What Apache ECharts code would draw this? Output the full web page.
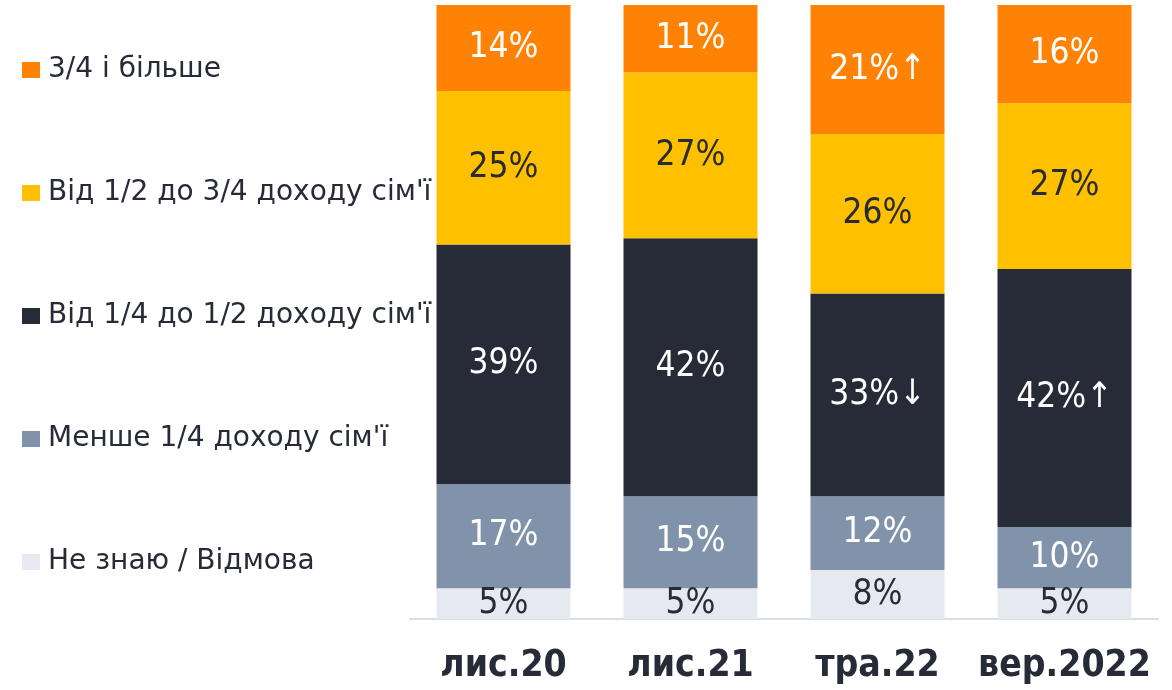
<!DOCTYPE html>
<html>
<head>
<meta charset="utf-8" />
<title>Stacked</title>
<script src="https://cdn.jsdelivr.net/npm/echarts@6/dist/echarts.min.js"></script>
<style>
  html, body { margin: 0; padding: 0; background: #fff; }
  #main { width: 1172px; height: 690px; }
</style>
</head>
<body>
<div id="main"></div>
<script>
var categories = ['лис.20', 'лис.21', 'тра.22', 'вер.2022'];

var seriesNames = ['Не знаю / Відмова', 'Менше 1/4 доходу сім\'ї', 'Від 1/4 до 1/2 доходу сім\'ї', 'Від 1/2 до 3/4 доходу сім\'ї', '3/4 і більше'];
var dontKnow = [5, 5, 8, 5];
var lessQuarter = [17, 15, 12, 10];
var quarterHalf = [39, 42, 33, 42];
var halfThreeQ = [25, 27, 26, 27];
var threeQMore = [14, 11, 21, 16];

// arrows shown after some labels
var arrowsQuarterHalf = ['', '', '↓', '↑'];
var arrowsThreeQMore = ['', '', '↑', ''];

var colors = ['#e6e9ef', '#8193ab', '#262b37', '#ffc000', '#ff8205'];
var labelColors = ['#262b37', '#ffffff', '#ffffff', '#262b37', '#ffffff'];

var values = [dontKnow, lessQuarter, quarterHalf, halfThreeQ, threeQMore];
var arrows = [null, null, arrowsQuarterHalf, null, arrowsThreeQMore];

var series = [];
for (var i = 0; i < values.length; i++) {
  (function (i) {
    series.push({
      name: seriesNames[i],
      type: 'bar',
      stack: 'total',
      barWidth: 134,
      data: values[i],
      itemStyle: { color: colors[i] },
      label: {
        show: true,
        position: 'inside',
        color: labelColors[i],
        fontFamily: 'DejaVu Sans Condensed',
        fontSize: 35,
        formatter: function (p) {
          var a = arrows[i] ? arrows[i][p.dataIndex] : '';
          return p.value + '%' + a;
        }
      }
    });
  })(i);
}

var myChart = echarts.init(document.getElementById('main'));
var option = {
  animation: false,
  legend: {
    orient: 'vertical',
    left: 22,
    top: 55,
    padding: 0,
    itemWidth: 18,
    itemHeight: 16,
    itemGap: 93,
    icon: 'rect',
    data: seriesNames.slice().reverse(),
    textStyle: { fontFamily: 'DejaVu Sans', fontSize: 28, color: '#262b37', lineHeight: 30, padding: [0, 0, 0, 3] }
  },
  grid: { left: 410, right: 14, top: 5, bottom: 71 },
  xAxis: {
    type: 'category',
    data: categories,
    axisLine: { lineStyle: { color: '#d9dde4', width: 2 } },
    axisTick: { show: false },
    axisLabel: {
      interval: 0,
      margin: 29,
      fontFamily: 'DejaVu Sans Condensed',
      fontWeight: 'bold',
      fontSize: 37,
      color: '#262b37'
    }
  },
  yAxis: {
    type: 'value',
    min: 0,
    max: 100,
    show: false
  },
  series: series
};
myChart.setOption(option);
</script>
</body>
</html>
